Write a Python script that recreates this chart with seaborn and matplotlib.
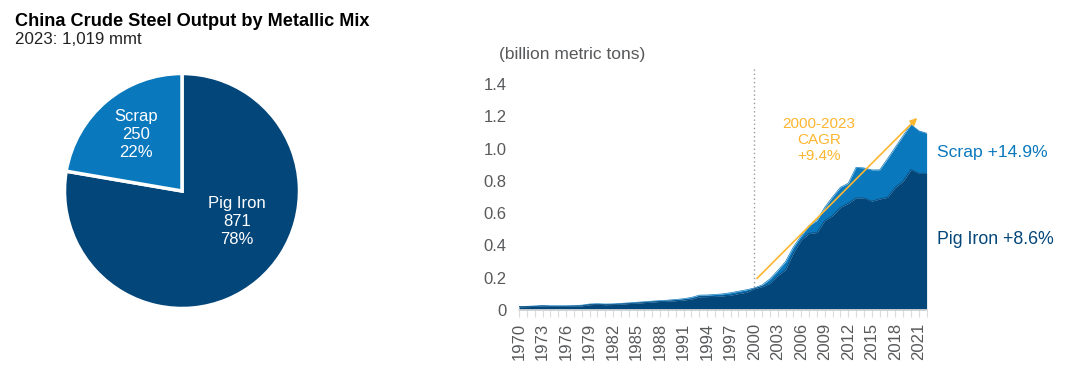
import matplotlib
matplotlib.use('Agg')
import matplotlib.pyplot as plt
import seaborn as sns

years = list(range(1970, 2023))
pig_iron = [.020, .021, .022, .025, .023, .023, .023, .024, .026, .033, .035, .033, .034, .037, .040, .043, .046, .050, .053, .055,
            .058, .062, .068, .082, .083, .085, .088, .092, .102, .110,
            .132, .145, .165, .213, .250, .355, .434, .475, .480, .554, .585, .636, .661, .694, .694, .674, .688, .698, .760, .798, .870, .847, .847]
total = [.022, .023, .025, .028, .026, .026, .026, .027, .030, .037, .039, .037, .038, .041, .044, .048, .051, .055, .058, .061,
         .065, .070, .078, .092, .093, .096, .100, .107, .116, .125,
         .136, .155, .192, .244, .300, .390, .460, .523, .554, .636, .700, .760, .785, .884, .880, .868, .868, .936, 1.008, 1.080, 1.149, 1.110, 1.095]
y_ticks = [0, 0.2, 0.4, 0.6, 0.8, 1.0, 1.2, 1.4]
y_labels = ['0', '0.2', '0.4', '0.6', '0.8', '1.0', '1.2', '1.4']
tick_years = list(range(1970, 2022, 3))

mix_labels = ['Pig Iron', 'Scrap']
mix_values = [871, 250]
mix_pct = [78, 22]

dark = '#03467a'
blue = '#0a78bd'
orange = '#fdb62f'
grey = '#58595b'

sns.set_theme(style='white')
plt.rcParams['font.family'] = ['Liberation Sans', 'DejaVu Sans']

W, H = 1080, 373
fig = plt.figure(figsize=(W / 100, H / 100), dpi=100)


def px_axes(left, top, right, bottom):
    return fig.add_axes([left / W, 1 - bottom / H, (right - left) / W, (bottom - top) / H])


# pie
ax_pie = px_axes(62, 71, 302, 311)
ax_pie.pie(mix_values, colors=[dark, blue], startangle=90, counterclock=False, radius=1,
           wedgeprops={'edgecolor': 'white', 'linewidth': 2.5})
ax_pie.set_xlim(-240 / 235, 240 / 235)
ax_pie.set_ylim(-240 / 235, 240 / 235)
ax_pie.text(0.47, -0.26, f'{mix_labels[0]}\n{mix_values[0]}\n{mix_pct[0]}%', color='white', fontsize=12,
            ha='center', va='center', linespacing=1.27)
ax_pie.text(-0.39, 0.48, f'{mix_labels[1]}\n{mix_values[1]}\n{mix_pct[1]}%', color='white', fontsize=12,
            ha='center', va='center', linespacing=1.27)

fig.text(15 / W, 1 - 21 / H, 'China Crude Steel Output by Metallic Mix', fontsize=13.1, fontweight='bold',
         color='black', va='center')
fig.text(15 / W, 1 - 40 / H, '2023: 1,019 mmt', fontsize=12.2, color='#222222', va='center')

# area chart
ax = px_axes(519, 84, 926.6, 310)
sns.lineplot(x=years, y=total, color=blue, lw=0.5, ax=ax)
sns.lineplot(x=years, y=pig_iron, color=dark, lw=0.5, ax=ax)
ax.fill_between(years, pig_iron, total, color=blue, lw=0)
ax.fill_between(years, 0, pig_iron, color=dark, lw=0)
ax.set_xlim(1970, 2022)
ax.set_ylim(0, 1.4)
ax.set_yticks(y_ticks, y_labels, fontsize=12, color=grey)
ax.set_xticks(years, minor=True)
ax.set_xticks(tick_years, [str(y) for y in tick_years], rotation=90, fontsize=12, color=grey)
ax.tick_params(axis='x', which='both', length=5, width=0.8, color='#dcdcdc', bottom=True, pad=4)
ax.tick_params(axis='y', length=0, pad=9)
sns.despine(ax=ax, left=True)
ax.spines['bottom'].set_color('#dcdcdc')
ax.patch.set_alpha(0)

ax.plot([2000, 2000], [0.14, 1.49], color='#9a9a9a', lw=1, ls=(0, (1, 2)), clip_on=False, zorder=1)
ax.annotate('', xy=(2020.8, 1.19), xytext=(2000.35, 0.195),
            arrowprops=dict(arrowstyle='-|>', color=orange, lw=1.2, shrinkA=0, shrinkB=0, mutation_scale=10))
ax.text(2008.3, 1.195, '2000-2023\nCAGR\n+9.4%', color=orange, fontsize=11, ha='center', va='top', linespacing=1.2)
ax.text(1967.5, 1.583, '(billion metric tons)', color=grey, fontsize=12.5, ha='left', va='center')

fig.text(937 / W, 1 - 152 / H, 'Scrap +14.9%', color=blue, fontsize=12.6, va='center')
fig.text(937 / W, 1 - 239 / H, 'Pig Iron +8.6%', color=dark, fontsize=12.8, va='center')

fig.savefig('out.png', dpi=100)
plt.close(fig)
